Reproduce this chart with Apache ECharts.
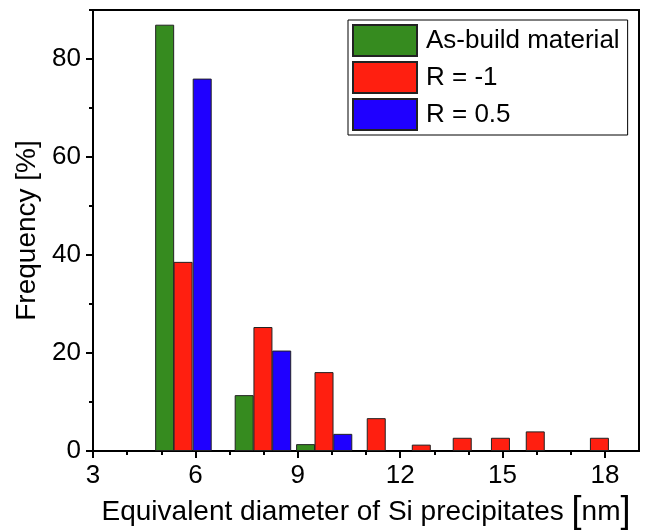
<!DOCTYPE html>
<html>
<head>
<meta charset="utf-8">
<script src="https://cdn.jsdelivr.net/npm/echarts@6/dist/echarts.min.js"></script>
<style>
  html, body { margin: 0; padding: 0; background: #fff; }
  #chart { width: 649px; height: 530px; }
</style>
</head>
<body>
<div id="chart"></div>
<script>
// bin centres [nm] and frequencies [%]
const asBuildX = [5.10, 7.43, 9.23]
const asBuildY = [87.0, 11.4, 1.4]
const rMinus1X = [5.64, 7.98, 9.77, 11.30, 12.62, 13.82, 14.94, 15.96, 17.84]
const rMinus1Y = [38.6, 25.3, 16.1, 6.7, 1.3, 2.7, 2.7, 4.0, 2.7]
const rHalfX = [6.20, 8.53, 10.32]
const rHalfY = [76.0, 20.5, 3.5]

const xMajorTicks = [3, 6, 9, 12, 15, 18]
const xMinorTicks = [4, 5, 7, 8, 10, 11, 13, 14, 16, 17]
const yMajorTicks = [0, 20, 40, 60, 80]
const yMinorTicks = [10, 30, 50, 70, 90]

const font = 'Liberation Sans, Arial, sans-serif'

function pairs (xs, ys) {
  return xs.map(function (x, i) { return [x, ys[i]] })
}

function barSeries (name, color, xs, ys) {
  return {
    name: name,
    type: 'bar',
    xAxisIndex: 0,
    yAxisIndex: 0,
    barWidth: 19,
    barGap: '-100%',
    itemStyle: { color: color, borderColor: '#222', borderWidth: 1 },
    data: pairs(xs, ys)
  }
}

const chart = echarts.init(document.getElementById('chart'))
chart.setOption({
  animation: false,
  textStyle: { fontFamily: font, color: '#000' },
  grid: {
    left: 93,
    right: 10,
    top: 10,
    bottom: 79,
    outerBoundsMode: 'none',
    containLabel: false,
    show: true,
    borderColor: '#000',
    borderWidth: 2
  },
  legend: {
    orient: 'vertical',
    left: 348,
    top: 20,
    padding: [4, 8, 4, 4],
    itemGap: 4,
    itemWidth: 64,
    itemHeight: 31,
    icon: 'rect',
    borderColor: '#000',
    borderWidth: 1,
    backgroundColor: '#fff',
    textStyle: { fontFamily: font, fontSize: 26, color: '#000', padding: [0, 0, 0, 4] },
    data: ['As-build material', 'R = -1', 'R = 0.5']
  },
  xAxis: [{
    type: 'value',
    min: 3,
    max: 19,
    interval: 3,
    name: '{a|Equivalent diameter of Si precipitates }{b|[}{a|nm}{b|]}',
    nameLocation: 'middle',
    nameGap: 40,
    nameTextStyle: {
      rich: {
        a: { fontFamily: font, fontSize: 28, color: '#000' },
        b: { fontFamily: font, fontSize: 36, color: '#000' }
      }
    },
    axisLine: { lineStyle: { color: '#000', width: 2 } },
    axisTick: { length: 7, lineStyle: { color: '#000', width: 2 }, customValues: xMajorTicks },
    axisLabel: { fontFamily: font, fontSize: 26, color: '#000', margin: 12, customValues: xMajorTicks },
    splitLine: { show: false }
  }, {
    type: 'value',
    min: 3,
    max: 19,
    position: 'bottom',
    axisLine: { show: false },
    axisTick: { length: 4, lineStyle: { color: '#000', width: 2 }, customValues: xMinorTicks },
    axisLabel: { show: false },
    splitLine: { show: false }
  }],
  yAxis: [{
    type: 'value',
    min: 0,
    max: 90,
    interval: 20,
    name: 'Frequency [%]',
    nameLocation: 'middle',
    nameGap: 52,
    nameTextStyle: { fontFamily: font, fontSize: 28, color: '#000' },
    axisLine: { lineStyle: { color: '#000', width: 2 } },
    axisTick: { length: 7, lineStyle: { color: '#000', width: 2 }, customValues: yMajorTicks },
    axisLabel: { fontFamily: font, fontSize: 26, color: '#000', margin: 12, customValues: yMajorTicks },
    splitLine: { show: false }
  }, {
    type: 'value',
    min: 0,
    max: 90,
    position: 'left',
    axisLine: { show: false },
    axisTick: { length: 4, lineStyle: { color: '#000', width: 2 }, customValues: yMinorTicks },
    axisLabel: { show: false },
    splitLine: { show: false }
  }],
  series: [
    barSeries('As-build material', '#368B1F', asBuildX, asBuildY),
    barSeries('R = -1', '#FF1F10', rMinus1X, rMinus1Y),
    barSeries('R = 0.5', '#1F00FF', rHalfX, rHalfY)
  ]
})
</script>
</body>
</html>
